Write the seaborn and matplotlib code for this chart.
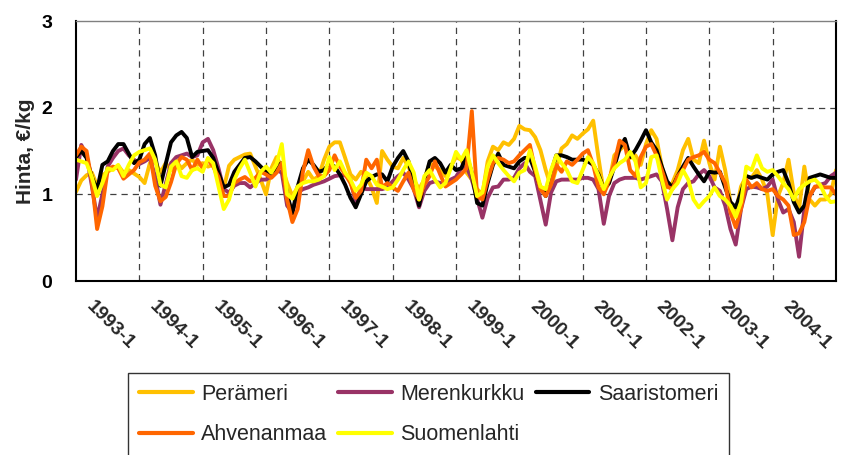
import numpy as np
import pandas as pd
import matplotlib
matplotlib.use("Agg")
import matplotlib.pyplot as plt
import seaborn as sns
from matplotlib.transforms import ScaledTranslation
from matplotlib.lines import Line2D

# ---------------- data (monthly, 1993-1 ... 2005-1) ----------------
years = list(range(1993, 2005))
tick_labels = [f"{y}-1" for y in years]

peramereri = [
    1.03, 1.16, 1.22, 1.25, 1.10, 1.22, 1.26, 1.30, 1.33, 1.25, 1.28, 1.24, 1.20, 1.13, 1.36, 1.38, 1.25, 1.36, 1.28, 1.38, 1.30, 1.36, 1.40, 1.34,
    1.36, 1.32, 1.34, 1.15, 1.07, 1.33, 1.40, 1.43, 1.46, 1.47, 1.32, 1.17, 1.00, 1.30, 1.43, 1.32, 1.13, 0.98, 1.08, 1.15, 1.26, 1.17, 1.21, 1.40,
    1.55, 1.60, 1.60, 1.42, 1.23, 1.17, 1.26, 1.21, 1.08, 0.90, 1.50, 1.40, 1.32, 1.30, 1.42, 1.32, 1.17, 1.06, 1.17, 1.36, 1.32, 1.28, 1.21, 1.32,
    1.43, 1.40, 1.25, 1.17, 1.06, 1.00, 1.38, 1.55, 1.51, 1.60, 1.57, 1.64, 1.79, 1.75, 1.74, 1.66, 1.51, 1.28, 1.09, 1.30, 1.53, 1.58, 1.68, 1.64,
    1.70, 1.75, 1.85, 1.42, 1.02, 1.13, 1.45, 1.51, 1.57, 1.42, 1.45, 1.34, 1.58, 1.74, 1.64, 1.32, 1.08, 1.13, 1.28, 1.51, 1.64, 1.40, 1.36, 1.62,
    1.36, 1.17, 1.55, 1.28, 0.91, 0.79, 1.09, 1.21, 1.19, 1.28, 1.17, 1.00, 0.53, 0.98, 1.13, 1.40, 1.02, 0.83, 1.32, 0.94, 0.87, 0.94, 0.94, 1.00, 1.28,
]
merenkurkku = [
    1.17, 1.57, 1.45, 1.10, 0.72, 1.00, 1.32, 1.42, 1.50, 1.53, 1.45, 1.40, 1.35, 1.38, 1.42, 1.20, 0.88, 1.12, 1.36, 1.43, 1.45, 1.47, 1.43, 1.45,
    1.60, 1.64, 1.51, 1.30, 1.06, 1.02, 1.10, 1.13, 1.13, 1.08, 1.13, 1.17, 1.17, 1.21, 1.28, 1.25, 0.87, 0.79, 1.02, 1.06, 1.08, 1.11, 1.13, 1.15,
    1.18, 1.21, 1.22, 1.22, 1.17, 0.90, 1.08, 1.06, 1.06, 1.06, 1.06, 1.08, 1.15, 1.21, 1.25, 1.17, 1.06, 0.85, 1.04, 1.13, 1.15, 1.13, 1.13, 1.17,
    1.20, 1.30, 1.32, 1.17, 0.95, 0.73, 0.96, 1.08, 1.09, 1.17, 1.17, 1.19, 1.30, 1.36, 1.26, 1.21, 0.93, 0.65, 1.02, 1.15, 1.17, 1.17, 1.17, 1.17,
    1.19, 1.19, 1.17, 1.06, 0.66, 0.98, 1.13, 1.17, 1.19, 1.19, 1.19, 1.17, 1.19, 1.21, 1.23, 1.15, 0.83, 0.47, 0.85, 1.06, 1.13, 1.15, 1.23, 1.28,
    1.21, 1.08, 1.04, 0.87, 0.60, 0.42, 0.83, 1.06, 1.09, 1.08, 1.06, 1.09, 1.17, 0.94, 0.79, 0.83, 0.68, 0.28, 0.83, 0.98, 1.08, 1.11, 1.13, 1.21, 1.25,
]
saaristomeri = [
    1.43, 1.50, 1.42, 1.20, 1.05, 1.34, 1.38, 1.50, 1.58, 1.58, 1.47, 1.36, 1.40, 1.58, 1.65, 1.45, 1.10, 1.35, 1.60, 1.68, 1.72, 1.65, 1.43, 1.49,
    1.50, 1.51, 1.42, 1.25, 1.08, 1.11, 1.26, 1.34, 1.42, 1.43, 1.38, 1.32, 1.26, 1.23, 1.32, 1.36, 1.00, 0.78, 1.09, 1.30, 1.40, 1.34, 1.26, 1.28,
    1.36, 1.32, 1.23, 1.11, 0.96, 0.85, 1.00, 1.15, 1.20, 1.23, 1.23, 1.15, 1.32, 1.42, 1.50, 1.38, 1.13, 0.87, 1.15, 1.38, 1.42, 1.36, 1.25, 1.34,
    1.28, 1.30, 1.45, 1.25, 0.90, 0.87, 1.13, 1.34, 1.47, 1.34, 1.32, 1.30, 1.38, 1.42, 1.42, 1.26, 1.08, 0.98, 1.25, 1.45, 1.45, 1.43, 1.40, 1.40,
    1.40, 1.38, 1.34, 1.23, 1.06, 1.13, 1.32, 1.53, 1.64, 1.43, 1.51, 1.62, 1.74, 1.60, 1.51, 1.32, 1.15, 1.08, 1.21, 1.32, 1.42, 1.32, 1.23, 1.15,
    1.26, 1.25, 1.26, 1.08, 0.91, 0.85, 1.02, 1.21, 1.19, 1.21, 1.19, 1.17, 1.23, 1.26, 1.28, 1.13, 0.91, 0.79, 0.87, 1.19, 1.21, 1.23, 1.21, 1.19, 1.19,
]
ahvenanmaa = [
    1.45, 1.55, 1.50, 1.15, 0.60, 0.86, 1.28, 1.32, 1.30, 1.18, 1.23, 1.28, 1.37, 1.40, 1.47, 1.10, 0.92, 0.97, 1.14, 1.35, 1.43, 1.40, 1.28, 1.40,
    1.30, 1.40, 1.32, 1.20, 0.98, 0.98, 1.13, 1.17, 1.20, 1.15, 1.19, 1.26, 1.23, 1.19, 1.25, 1.36, 0.94, 0.68, 0.83, 1.26, 1.51, 1.32, 1.21, 1.21,
    1.28, 1.45, 1.32, 1.23, 1.13, 0.96, 1.04, 1.40, 1.30, 1.40, 1.08, 1.13, 1.08, 1.04, 1.15, 1.25, 1.05, 0.94, 1.11, 1.21, 1.38, 1.23, 1.09, 1.13,
    1.17, 1.23, 1.30, 1.96, 0.98, 0.94, 1.17, 1.36, 1.42, 1.40, 1.36, 1.38, 1.45, 1.51, 1.57, 1.28, 1.06, 0.98, 1.11, 1.34, 1.26, 1.38, 1.34, 1.40,
    1.47, 1.51, 1.34, 1.08, 1.00, 1.17, 1.36, 1.62, 1.57, 1.28, 1.21, 1.43, 1.55, 1.58, 1.45, 1.28, 1.09, 1.06, 1.21, 1.28, 1.40, 1.43, 1.45, 1.49,
    1.40, 1.36, 1.25, 1.13, 0.79, 0.62, 0.83, 1.17, 1.08, 1.13, 1.06, 1.04, 1.06, 0.98, 0.94, 0.87, 0.53, 0.55, 0.68, 0.98, 1.09, 1.09, 1.08, 1.08, 1.00,
]
suomenlahti = [
    1.40, 1.38, 1.36, 1.20, 0.98, 1.13, 1.30, 1.28, 1.34, 1.21, 1.34, 1.45, 1.49, 1.51, 1.53, 1.40, 1.11, 1.08, 1.32, 1.38, 1.21, 1.19, 1.28, 1.30,
    1.26, 1.42, 1.36, 1.09, 0.83, 0.94, 1.17, 1.30, 1.40, 1.25, 1.09, 1.26, 1.32, 1.25, 1.35, 1.58, 1.00, 0.95, 1.09, 1.13, 1.15, 1.15, 1.17, 1.21,
    1.43, 1.28, 1.38, 1.25, 1.17, 1.04, 1.11, 1.25, 1.21, 1.11, 1.09, 1.06, 1.08, 1.17, 1.28, 1.38, 1.25, 0.94, 1.21, 1.28, 1.17, 1.08, 1.13, 1.30,
    1.49, 1.40, 1.51, 1.25, 0.98, 1.02, 1.32, 1.45, 1.36, 1.28, 1.21, 1.15, 1.25, 1.28, 1.51, 1.32, 1.09, 1.06, 1.28, 1.45, 1.36, 1.28, 1.15, 1.13,
    1.28, 1.43, 1.36, 1.21, 1.06, 1.19, 1.30, 1.36, 1.40, 1.49, 1.38, 1.08, 1.13, 1.43, 1.45, 1.17, 0.94, 1.06, 1.13, 1.28, 1.17, 0.94, 0.85, 0.92,
    0.98, 1.08, 0.98, 0.94, 0.87, 0.74, 0.91, 1.32, 1.28, 1.45, 1.30, 1.26, 1.28, 1.21, 1.13, 1.06, 0.94, 1.06, 1.11, 1.15, 1.17, 1.11, 0.98, 0.91, 0.92,
]

series_names = ["Perämeri", "Merenkurkku", "Saaristomeri", "Ahvenanmaa", "Suomenlahti"]
series_values = [peramereri, merenkurkku, saaristomeri, ahvenanmaa, suomenlahti]
colors = {"Perämeri": "#FFC000", "Merenkurkku": "#993366", "Saaristomeri": "#000000",
          "Ahvenanmaa": "#FF6600", "Suomenlahti": "#FFFF00"}

frames = []
for name, vals in zip(series_names, series_values):
    frames.append(pd.DataFrame({"month": np.arange(len(vals)), "price": vals, "area": name}))
df = pd.concat(frames, ignore_index=True)
n_months = len(peramereri)

# ---------------- figure ----------------
sns.set_theme(style="white")
plt.rcParams["font.family"] = ["Liberation Sans", "DejaVu Sans"]

fig = plt.figure(figsize=(8.43, 4.55), dpi=100)
ax = fig.add_axes([76 / 843, 1 - 281 / 455, (836 - 76) / 843, (281 - 21) / 455])

sns.lineplot(data=df, x="month", y="price", hue="area", hue_order=series_names,
             palette=colors, estimator=None, linewidth=2.8, legend=False, ax=ax)

ax.set_xlim(0, n_months - 1)
ax.set_ylim(0, 3)

# grid lines
for g in range(12, n_months - 1, 12):
    ax.axvline(g, color="#404040", lw=0.9, ls=(0, (5, 4)), zorder=0)
for g in (1, 2):
    ax.axhline(g, color="#404040", lw=0.9, ls=(0, (5, 4)), zorder=0)

# y axis
ax.set_yticks([0, 1, 2, 3])
ax.set_yticklabels(["0", "1", "2", "3"], fontsize=14, fontweight="bold")
ax.tick_params(axis="y", direction="out", length=4, width=1, pad=13, colors="black")
ax.set_ylabel("Hinta, €/kg", fontsize=15, fontweight="bold", labelpad=5)

# x axis: tick marks every 24 months, labels every 12 months
ax.xaxis.remove_overlapping_locs = False
ax.set_xticks(np.arange(0, n_months, 24))
ax.set_xticklabels([])
ax.tick_params(axis="x", which="major", direction="out", length=5, width=1)
ax.set_xticks(np.arange(0, 12 * len(years), 12), minor=True)
ax.set_xticklabels(tick_labels, minor=True, rotation=-45, ha="left", va="top",
                   rotation_mode="anchor", fontsize=14, fontweight="bold")
ax.tick_params(axis="x", which="minor", length=0, pad=12)
off = ScaledTranslation(19 / 100, 0, fig.dpi_scale_trans)
for lab in ax.get_xticklabels(minor=True):
    lab.set_transform(lab.get_transform() + off)
ax.set_xlabel("")

for side in ("left", "bottom", "right"):
    ax.spines[side].set_color("black")
    ax.spines[side].set_linewidth(1.5)
ax.spines["top"].set_color("#808080")
ax.spines["top"].set_linewidth(1.0)

# legend (row-major order as in the original)
order = ["Perämeri", "Ahvenanmaa", "Merenkurkku", "Suomenlahti", "Saaristomeri"]
handles = [Line2D([], [], color=colors[n], lw=3) for n in order]
leg = fig.legend(handles, order, loc="upper left", bbox_to_anchor=(128 / 843, 1 - 373 / 455),
                 ncol=3, fontsize=15.5, frameon=True, fancybox=False, edgecolor="black",
                 handlelength=2.5, handletextpad=0.4, columnspacing=0.5,
                 labelspacing=0.9, borderpad=0.5, borderaxespad=0)
leg.get_frame().set_linewidth(1.0)

fig.savefig("out.png", dpi=100)
